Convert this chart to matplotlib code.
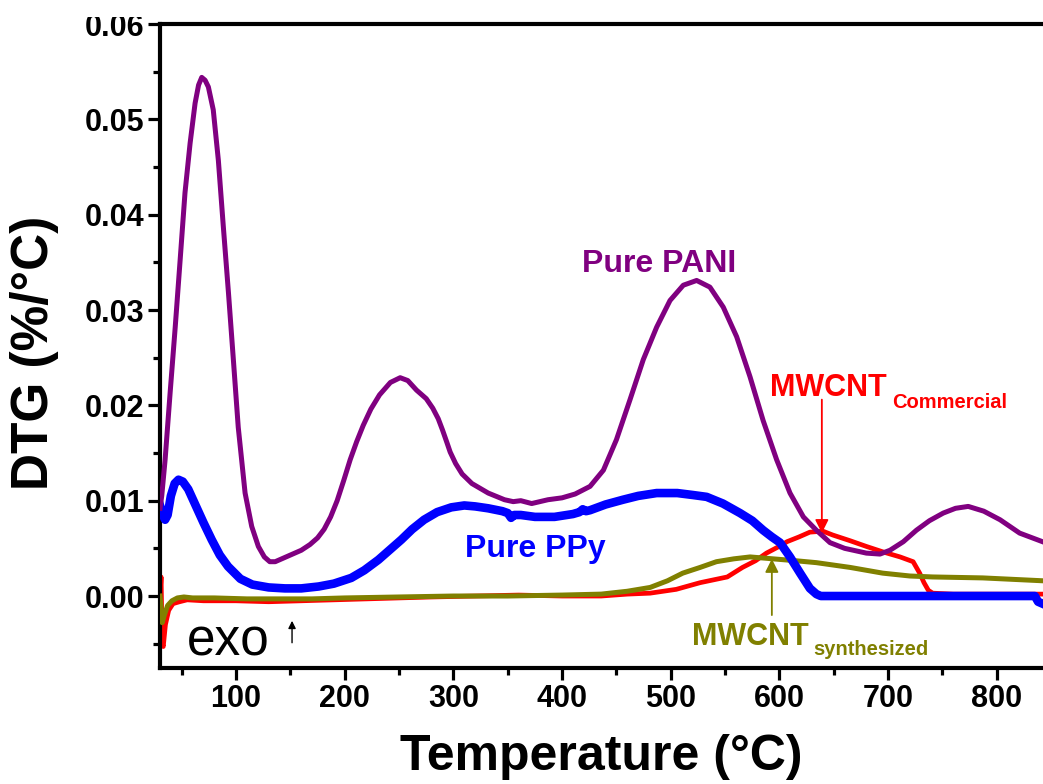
import matplotlib
matplotlib.use("Agg")
import matplotlib.pyplot as plt
from matplotlib.patches import Rectangle
from matplotlib.ticker import MultipleLocator, FormatStrFormatter

plt.rcParams['font.family'] = ['Liberation Sans', 'DejaVu Sans']

# ---------------- data ----------------
# (temperature °C, DTG %/°C)
pani = [(30, 0.0092), (31.6, 0.0105), (34.7, 0.0143), (39.3, 0.0213), (44, 0.0282),
        (48.5, 0.0352), (53, 0.0423), (57.7, 0.0475), (62.3, 0.0517), (65.5, 0.0536),
        (68.4, 0.0544), (71.5, 0.0541), (74.5, 0.0534), (79, 0.0510), (83.7, 0.0457),
        (88.3, 0.0387), (93, 0.0318), (97.5, 0.0248), (102, 0.0177), (108.3, 0.0108),
        (114.4, 0.0073), (120.5, 0.0052), (126, 0.0041), (131, 0.0036), (136, 0.0036),
        (142, 0.0039), (152, 0.0044), (160, 0.0048), (168, 0.0054), (175, 0.0061),
        (181, 0.0070), (187, 0.0083), (193, 0.0100), (199, 0.0121), (205, 0.0143),
        (211, 0.0162), (217, 0.0179), (224, 0.0196), (232, 0.0211), (242, 0.0224),
        (251, 0.0229), (258, 0.0226), (266, 0.0216), (275, 0.0207), (281, 0.0197),
        (286, 0.0186), (290, 0.0174), (294, 0.0161), (297, 0.0151), (302, 0.0139),
        (308, 0.0128), (317, 0.0118), (332, 0.0108), (347, 0.0101), (355, 0.0099),
        (362, 0.0100), (372, 0.0097), (387, 0.0101), (400, 0.0103), (412, 0.0107),
        (425.7, 0.0115), (438, 0.0132), (450, 0.0164), (462.5, 0.0206), (474.7, 0.0248),
        (487, 0.0282), (499.3, 0.0310), (511.5, 0.0326), (523.8, 0.0331), (536, 0.0324),
        (548.3, 0.0303), (560.6, 0.0272), (572.9, 0.0230), (585, 0.0184), (597.4, 0.0143),
        (609.7, 0.0108), (622, 0.0083), (634, 0.0069), (646.5, 0.0056), (660, 0.0050),
        (680, 0.0045), (692.5, 0.0044), (701.7, 0.0048), (714, 0.0057), (726, 0.0069),
        (738, 0.0079), (750.7, 0.0087), (762, 0.0092), (773.7, 0.0094), (788, 0.0089),
        (803, 0.0080), (821, 0.0066), (842, 0.0057)]

ppy = [(30, 0.0095), (32.5, 0.0085), (34.7, 0.0080), (37, 0.0085), (40, 0.0105),
       (43.5, 0.0118), (47, 0.0122), (51, 0.0120), (56, 0.0112), (62, 0.0097),
       (70, 0.0077), (77.6, 0.0059), (85, 0.0043), (92.6, 0.0031), (104, 0.0018),
       (115, 0.0012), (130, 0.0009), (145, 0.0008), (160, 0.0008), (176, 0.0010),
       (190, 0.0013), (206, 0.0019), (218, 0.0027), (231, 0.0038), (242, 0.0049),
       (252, 0.0059), (262, 0.0070), (273, 0.0080), (285, 0.0088), (298, 0.0093),
       (310, 0.0095), (320, 0.0094), (332, 0.0092), (345, 0.0089), (350, 0.0087),
       (353, 0.0082), (356, 0.0085), (362, 0.0085), (375, 0.0083), (393, 0.0083),
       (410, 0.0086), (416, 0.0088), (419, 0.0091), (422, 0.0089), (425.7, 0.0090),
       (440, 0.0096), (456, 0.0101), (470, 0.0105), (487, 0.0108), (506, 0.0108),
       (520, 0.0106), (533, 0.0104), (548, 0.0097), (563.7, 0.0087), (575, 0.0079),
       (585, 0.0069), (593, 0.0062), (600.5, 0.0056), (609.7, 0.0041), (619, 0.0024),
       (628, 0.0008), (634, 0.0002), (638, 0.0000), (700, 0.0000), (800, 0.0000),
       (835, 0.0000), (838, -0.0006), (842, -0.0008)]

mwcnt_com = [(30, 0.0000), (31, 0.0020), (32, -0.0050), (33, -0.0053), (35, -0.0030),
             (38, -0.0015), (42, -0.0008), (48, -0.0006), (55, -0.0004), (70, -0.0005),
             (100, -0.0005), (130, -0.0006), (160, -0.0005), (190, -0.0004), (220, -0.0003),
             (250, -0.0002), (280, -0.0001), (320, 0.0000), (360, 0.0001), (400, 0.0000),
             (436, 0.0000), (460, 0.0002), (481, 0.0003), (505, 0.0007), (527, 0.0014),
             (552, 0.0020), (566, 0.0030), (578, 0.0037), (588, 0.0045), (598, 0.0051),
             (607, 0.0057), (618, 0.0062), (628, 0.0067), (640, 0.0068), (649, 0.0064),
             (665, 0.0058), (680, 0.0052), (696, 0.0046), (711, 0.0041), (723, 0.0036),
             (729, 0.0024), (733, 0.0014), (737, 0.0006), (741, 0.0003), (760, 0.0002),
             (790, 0.0002), (820, 0.0002), (842, 0.0002)]

mwcnt_syn = [(30, 0.0000), (31, -0.0012), (32, -0.0028), (34, -0.0020), (37, -0.0010),
             (41, -0.0005), (46, -0.0002), (52, -0.0001), (60, -0.0002), (80, -0.0002),
             (110, -0.0003), (140, -0.0003), (170, -0.0003), (200, -0.0002), (250, -0.0001),
             (300, 0.0000), (350, 0.0000), (400, 0.0001), (436, 0.0002), (460, 0.0005),
             (481, 0.0009), (497, 0.0016), (511, 0.0024), (527, 0.0030), (542, 0.0036),
             (558, 0.0039), (573, 0.0041), (594, 0.0039), (615, 0.0037), (634, 0.0035),
             (665, 0.0030), (695, 0.0024), (720, 0.0021), (741, 0.0020), (787, 0.0019),
             (842, 0.0016)]

x_ticks = [100, 200, 300, 400, 500, 600, 700, 800]
y_ticks = [0.00, 0.01, 0.02, 0.03, 0.04, 0.05, 0.06]

PURPLE = '#800080'
BLUE = '#0000FF'
RED = '#FF0000'
OLIVE = '#808000'

# ---------------- figure ----------------
W, H = 1043, 784
fig = plt.figure(figsize=(W / 100, H / 100), dpi=100)
ax = fig.add_axes([160 / W, (H - 668) / H, (W - 160) / W, (668 - 24) / H])


def xy(pairs):
    return [p[0] for p in pairs], [p[1] for p in pairs]


ax.plot(*xy(mwcnt_com), color=RED, lw=3.4, solid_joinstyle='round', zorder=2)
ax.plot(*xy(mwcnt_syn), color=OLIVE, lw=3.6, solid_joinstyle='round', zorder=3)
ax.plot(*xy(ppy), color=BLUE, lw=6.2, solid_joinstyle='round', zorder=4)
ax.plot(*xy(pani), color=PURPLE, lw=3.6, solid_joinstyle='round', zorder=5)

ax.set_xlim(30, 842.5)
ax.set_ylim(-0.00755, 0.06)

ax.set_xticks(x_ticks)
ax.set_yticks(y_ticks)
ax.xaxis.set_minor_locator(MultipleLocator(50))
ax.yaxis.set_minor_locator(MultipleLocator(0.005))
ax.yaxis.set_major_formatter(FormatStrFormatter('%.2f'))

ax.spines['right'].set_visible(False)
for s in ('left', 'bottom', 'top'):
    ax.spines[s].set_linewidth(3.0)

ax.tick_params(which='major', direction='out', length=8.5, width=2.3,
               labelsize=22, pad=3)
ax.tick_params(which='minor', direction='out', length=5, width=2.3)
ax.tick_params(axis='x', which='both', top=False)
ax.tick_params(axis='y', which='both', right=False)
for lab in ax.get_xticklabels() + ax.get_yticklabels():
    lab.set_fontweight('bold')

# axis titles
fig.text(35 / W, 1 - 353 / H, 'DTG (%/°C)', rotation=90, ha='center', va='center',
         fontsize=37, fontweight='bold')
fig.text(601 / W, 1 - 770 / H, 'Temperature (°C)', ha='center', va='baseline',
         fontsize=36, fontweight='bold')

# curve labels
ax.text(418, 0.0340, 'Pure PANI', color=PURPLE, fontsize=23, fontweight='bold',
        ha='left', va='baseline')
ax.text(311, 0.0041, 'Pure PPy', color=BLUE, fontsize=23, fontweight='bold',
        ha='left', va='baseline')
ax.text(591, 0.0210, 'MWCNT', color=RED, fontsize=22, fontweight='bold',
        ha='left', va='baseline')
ax.text(703.5, 0.0197, 'Commercial', color=RED, fontsize=14.5, fontweight='bold',
        ha='left', va='baseline')
ax.text(519.5, -0.00514, 'MWCNT', color=OLIVE, fontsize=22, fontweight='bold',
        ha='left', va='baseline')
ax.text(631.5, -0.0062, 'synthesized', color=OLIVE, fontsize=14.5, fontweight='bold',
        ha='left', va='baseline')
ax.text(55, -0.0062, 'exo', color='black', fontsize=37, ha='left', va='baseline')

# arrows
ax.annotate('', xy=(639, 0.0066), xytext=(639, 0.0206),
            arrowprops=dict(arrowstyle='-|>', color=RED, lw=1.3, mutation_scale=20,
                            shrinkA=0, shrinkB=0), zorder=6)
ax.annotate('', xy=(593, 0.0039), xytext=(593, -0.0020),
            arrowprops=dict(arrowstyle='-|>', color=OLIVE, lw=1.3, mutation_scale=20,
                            shrinkA=0, shrinkB=0), zorder=6)
ax.annotate('', xy=(151.5, -0.0026), xytext=(151.5, -0.0049),
            arrowprops=dict(arrowstyle='-|>', color='black', lw=1.0, mutation_scale=11,
                            shrinkA=0, shrinkB=0), zorder=6)

# the original picture is cropped just above the top tick label
fig.add_artist(Rectangle((0, 1 - 17 / H), 1, 17 / H, transform=fig.transFigure,
                         facecolor='white', edgecolor='none', zorder=10))

fig.savefig('out.png', dpi=100)
